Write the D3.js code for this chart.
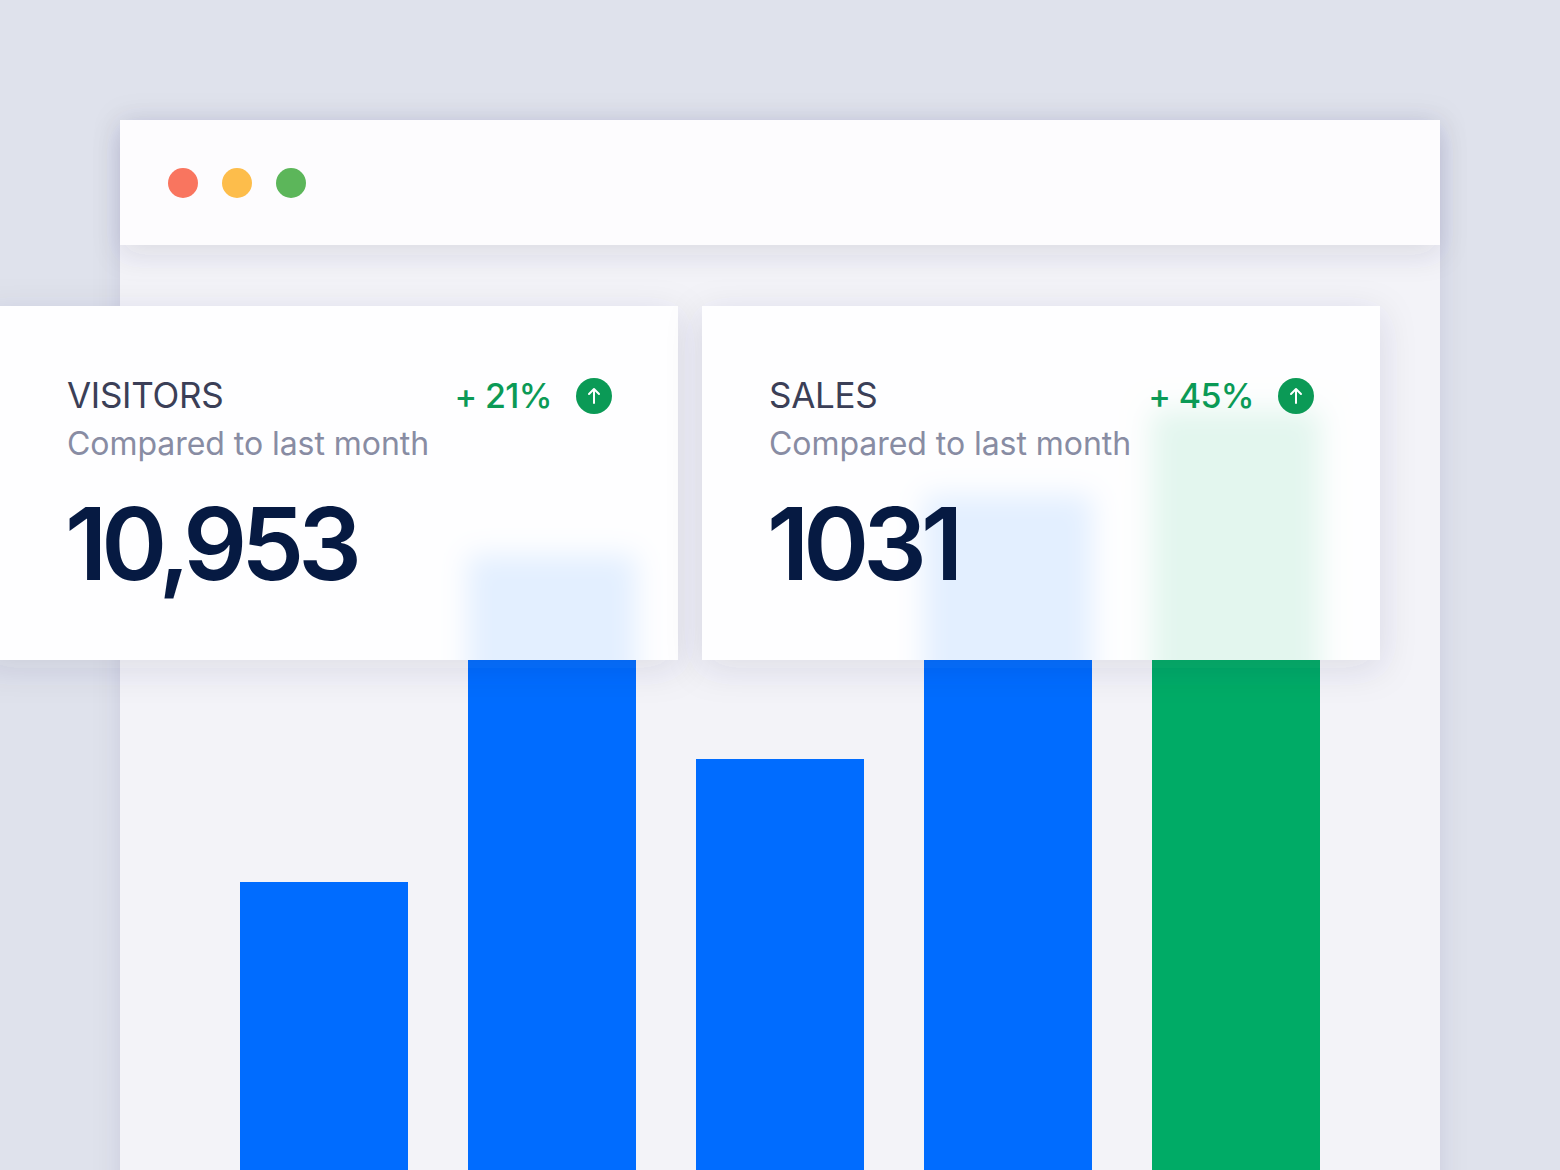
<!DOCTYPE html>
<html>
<head>
<meta charset="utf-8">
<script src="https://cdn.jsdelivr.net/npm/d3@7"></script>
<style>
  html, body { margin: 0; padding: 0; background: #dfe2ec; overflow: hidden; }
  svg { display: block; font-family: Inter, "Noto Sans", sans-serif; }
</style>
</head>
<body>
<div id="chart"></div>
<script>
// bar chart data (no axis labels shown in the picture)
const periods = ["P1", "P2", "P3", "P4", "P5"];
const values = [288, 615, 411, 675, 760];

// stat cards
const cardTitles = ["VISITORS", "SALES"];
const cardSubtitles = ["Compared to last month", "Compared to last month"];
const cardValues = ["10,953", "1031"];
const cardChanges = [21, 45];

const W = 1560, H = 1170;
const blue = "#006cff", green = "#00ab66";

const svg = d3.select("#chart").append("svg")
    .attr("width", W)
    .attr("height", H);

const defs = svg.append("defs");

function shadow(id, dy, sd, op) {
    defs.append("filter")
        .attr("id", id)
        .attr("x", "-20%").attr("y", "-30%")
        .attr("width", "140%").attr("height", "160%")
        .append("feDropShadow")
        .attr("dx", 0).attr("dy", dy)
        .attr("stdDeviation", sd)
        .attr("flood-color", "#27305a")
        .attr("flood-opacity", op);
}
shadow("winShadow", 0, 14, 0.10);
shadow("barShadow", 10, 14, 0.12);
shadow("cardShadow", 8, 18, 0.12);

defs.append("filter")
    .attr("id", "frost")
    .attr("x", "-50%").attr("y", "-50%")
    .attr("width", "200%").attr("height", "200%")
    .append("feGaussianBlur")
    .attr("stdDeviation", 14);

// page background
svg.append("rect").attr("width", W).attr("height", H).attr("fill", "#dfe2ec");

// browser window
svg.append("rect")
    .attr("x", 120).attr("y", 120)
    .attr("width", 1320).attr("height", 1150)
    .attr("fill", "#f3f3f8")
    .attr("filter", "url(#winShadow)");

svg.append("rect")
    .attr("x", 120).attr("y", 120)
    .attr("width", 1320).attr("height", 125)
    .attr("fill", "#fdfcfe")
    .attr("filter", "url(#barShadow)");

svg.selectAll("circle.dot")
    .data(["#f9755f", "#fdbd4b", "#5cb65a"])
    .enter().append("circle")
    .attr("class", "dot")
    .attr("cx", (d, i) => 183 + i * 54)
    .attr("cy", 183)
    .attr("r", 15)
    .attr("fill", d => d);

// scales
const x = d3.scaleBand()
    .domain(periods)
    .range([240, 1320])
    .paddingInner(60 / 228)
    .paddingOuter(0);

const y = d3.scaleLinear()
    .domain([0, 800])
    .range([H, 370]);

const barColor = (d, i) => i === periods.length - 1 ? green : blue;

function drawBars(g) {
    g.selectAll("rect")
        .data(values)
        .enter().append("rect")
        .attr("x", (d, i) => x(periods[i]))
        .attr("y", d => y(d))
        .attr("width", x.bandwidth())
        .attr("height", d => y(0) - y(d) + 40)
        .attr("fill", barColor);
}

drawBars(svg.append("g").attr("class", "bars"));

// frosted stat cards
const cards = [
    { x: -20, w: 698 },
    { x: 702, w: 678 }
];
const cardY = 306, cardH = 354;

cards.forEach((c, i) => {
    defs.append("clipPath").attr("id", "clip" + i)
        .append("rect")
        .attr("x", c.x).attr("y", cardY)
        .attr("width", c.w).attr("height", cardH);

    const g = svg.append("g");

    g.append("rect")
        .attr("x", c.x).attr("y", cardY)
        .attr("width", c.w).attr("height", cardH)
        .attr("fill", "#f3f3f8")
        .attr("filter", "url(#cardShadow)");

    const inner = g.append("g").attr("clip-path", `url(#clip${i})`);
    drawBars(inner.append("g").attr("filter", "url(#frost)"));

    g.append("rect")
        .attr("x", c.x).attr("y", cardY)
        .attr("width", c.w).attr("height", cardH)
        .attr("fill", "#ffffff")
        .attr("fill-opacity", 0.89);

    const left = i === 0 ? 67 : 769;
    const right = i === 0 ? 612 : 1314;

    g.append("text")
        .attr("x", left).attr("y", 408)
        .attr("font-size", 35)
        .attr("font-weight", 400)
        .attr("letter-spacing", -0.3)
        .attr("fill", "#3b3f57")
        .text(cardTitles[i]);

    g.append("text")
        .attr("x", left).attr("y", 455)
        .attr("font-size", 32)
        .attr("letter-spacing", -0.05)
        .attr("fill", "#888ca3")
        .text(cardSubtitles[i]);

    g.append("text")
        .attr("x", left - 2).attr("y", 580)
        .attr("font-size", 100)
        .attr("font-weight", 600)
        .attr("letter-spacing", -6)
        .attr("fill", "#061a42")
        .text(cardValues[i]);

    g.append("text")
        .attr("x", right - 60).attr("y", 408)
        .attr("text-anchor", "end")
        .attr("font-size", 34)
        .attr("font-weight", 500)
        .attr("letter-spacing", -0.6)
        .attr("fill", "#0b9a56")
        .text("+ " + cardChanges[i] + "%");

    const cx = right - 18, cy = 396;
    g.append("circle")
        .attr("cx", cx).attr("cy", cy).attr("r", 18)
        .attr("fill", "#0b9a56");
    g.append("path")
        .attr("d", `M${cx},${cy + 7}V${cy - 7}M${cx - 5},${cy - 2}L${cx},${cy - 7}L${cx + 5},${cy - 2}`)
        .attr("fill", "none")
        .attr("stroke", "#fff")
        .attr("stroke-width", 2)
        .attr("stroke-linecap", "round")
        .attr("stroke-linejoin", "round");
});
</script>
</body>
</html>
